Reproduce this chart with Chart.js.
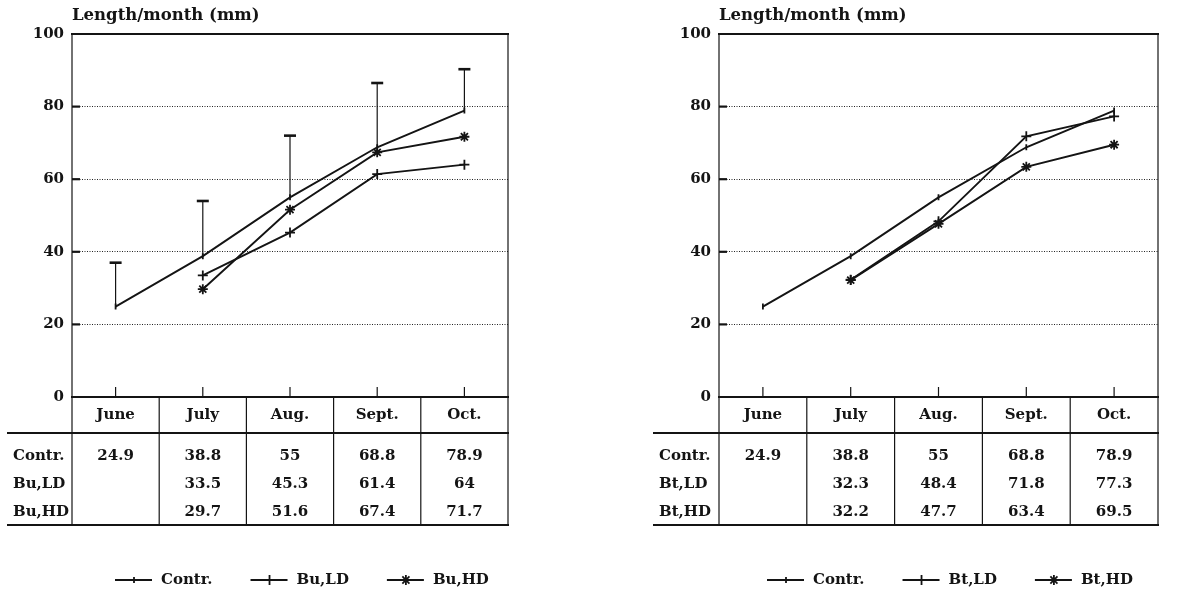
<!DOCTYPE html>
<html>
<head>
<meta charset="utf-8">
<script src="https://cdn.jsdelivr.net/npm/chart.js@4.4.0/dist/chart.umd.min.js"></script>
<style>
  html, body { margin: 0; padding: 0; background: #fff; }
  .row { display: flex; width: 1196px; height: 602px; }
  canvas { display: block; }
</style>
</head>
<body>
<div class="row">
  <canvas id="buChart" width="598" height="602"></canvas>
  <canvas id="btChart" width="598" height="602"></canvas>
</div>
<script>
const months = ["June", "July", "Aug.", "Sept.", "Oct."];

// control group, with the top of its error bars
const contr = [24.9, 38.8, 55, 68.8, 78.9];
const contrUpper = [37, 54, 72, 86.5, 90.3];

const buLD = [null, 33.5, 45.3, 61.4, 64];
const buHD = [null, 29.7, 51.6, 67.4, 71.7];

const btLD = [null, 32.3, 48.4, 71.8, 77.3];
const btHD = [null, 32.2, 47.7, 63.4, 69.5];

const yTicks = [0, 20, 40, 60, 80, 100];
const yTitle = "Length/month (mm)";

const FONT = '"DejaVu Serif", serif';
const INK = "#141414";

function series(label, data, pointStyle, radius, rotation) {
  return {
    label, data,
    borderColor: INK,
    backgroundColor: INK,
    borderWidth: 1.9,
    pointStyle,
    pointRadius: radius,
    pointRotation: rotation || 0,
    pointBorderWidth: 1.8,
    pointBorderColor: INK,
    pointBackgroundColor: INK,
    tension: 0
  };
}

// frame, table under the plot, legend, title and error bars
const sheet = {
  id: "sheet",
  afterDraw(chart, args, opts) {
    const { ctx, chartArea: a, scales: { x, y } } = chart;
    const line = (x1, y1, x2, y2, w) => {
      ctx.beginPath();
      ctx.lineWidth = w;
      ctx.moveTo(x1, y1);
      ctx.lineTo(x2, y2);
      ctx.stroke();
    };
    const text = (s, tx, ty, align, size) => {
      ctx.font = "bold " + (size || 15) + "px " + FONT;
      ctx.textAlign = align;
      ctx.textBaseline = "middle";
      ctx.fillText(s, tx, ty);
    };
    ctx.save();
    ctx.strokeStyle = INK;
    ctx.fillStyle = INK;

    // plot frame
    line(a.left - 1, a.top, a.right + 1, a.top, 2.2);
    line(a.left, a.top, a.left, a.bottom, 1.2);
    line(a.right, a.top, a.right, a.bottom, 1.2);
    line(a.left - 1, a.bottom, a.right + 1, a.bottom, 2.2);

    // short ticks inside the frame
    yTicks.slice(1, -1).forEach(v => {
      const py = y.getPixelForValue(v);
      line(a.left, py, a.left + 8, py, 2.2);
    });
    months.forEach((m, i) => {
      const px = x.getPixelForValue(i);
      line(px, a.bottom, px, a.bottom - 10, 1.2);
    });

    // error bars on the control line
    if (opts.upper) {
      const base = chart.data.datasets[0].data;
      opts.upper.forEach((u, i) => {
        const px = x.getPixelForValue(i);
        const y1 = y.getPixelForValue(u);
        line(px, y.getPixelForValue(base[i]), px, y1, 1.2);
        line(px - 6, y1, px + 6, y1, 2.6);
      });
    }

    // title above the axis
    text(yTitle, a.left, a.top - 18, "left", 16.5);

    // data table
    const band = (a.right - a.left) / months.length;
    const edges = months.map((m, i) => x.getPixelForValue(i) - band / 2).concat(a.right);
    const hBot = a.bottom + 36;
    const tBot = a.bottom + 128;
    edges.forEach(ex => line(ex, a.bottom, ex, tBot, 1.2));
    line(opts.tableLeft, hBot, a.right + 1, hBot, 2.2);
    line(opts.tableLeft, tBot, a.right + 1, tBot, 2.2);
    months.forEach((m, i) => text(m, x.getPixelForValue(i), a.bottom + 18, "center", 15));
    chart.data.datasets.forEach((ds, j) => {
      const ry = hBot + 23 + j * 28;
      text(ds.label, opts.tableLeft + 6, ry, "left", 15);
      ds.data.forEach((v, i) => {
        if (v !== null) text(String(v), x.getPixelForValue(i), ry, "center", 15);
      });
    });

    // legend
    let lx = opts.legendX;
    const ly = a.bottom + 183;
    chart.data.datasets.forEach(ds => {
      line(lx, ly, lx + 37, ly, 1.8);
      ctx.lineWidth = ds.pointBorderWidth;
      Chart.helpers.drawPoint(ctx, {
        pointStyle: ds.pointStyle,
        rotation: ds.pointRotation,
        radius: ds.pointRadius,
        borderWidth: ds.pointBorderWidth
      }, lx + 19, ly);
      text(ds.label, lx + 46, ly, "left", 15);
      lx += 46 + ctx.measureText(ds.label).width + 38;
    });
    ctx.restore();
  }
};

function makeChart(id, datasets, opts) {
  return new Chart(document.getElementById(id), {
    type: "line",
    data: { labels: months, datasets },
    options: {
      responsive: false,
      animation: false,
      devicePixelRatio: 1,
      layout: { padding: { left: 0, right: opts.padRight, top: 34, bottom: 205 } },
      scales: {
        x: { type: "category", display: false, offset: true },
        y: {
          min: 0,
          max: 100,
          afterBuildTicks: s => { s.ticks = yTicks.map(v => ({ value: v })); },
          afterFit: s => { s.width = opts.axisWidth; },
          border: { display: false, dash: [1, 1.5] },
          grid: {
            drawTicks: false,
            lineWidth: 1,
            color: c => (c.tick.value === 0 || c.tick.value === 100) ? "rgba(0,0,0,0)" : "#222"
          },
          ticks: { color: INK, padding: 8, font: { family: FONT, size: 15, weight: "bold" } }
        }
      },
      plugins: {
        legend: { display: false },
        tooltip: { enabled: false },
        sheet: opts
      }
    },
    plugins: [sheet]
  });
}

makeChart("buChart", [
  series("Contr.", contr, "line", 3, 90),
  series("Bu,LD", buLD, "cross", 5),
  series("Bu,HD", buHD, "star", 5)
], { axisWidth: 72, padRight: 90, tableLeft: 7, legendX: 115, upper: contrUpper });

makeChart("btChart", [
  series("Contr.", contr, "line", 3, 90),
  series("Bt,LD", btLD, "cross", 5),
  series("Bt,HD", btHD, "star", 5)
], { axisWidth: 121, padRight: 38, tableLeft: 55, legendX: 169 });
</script>
</body>
</html>
